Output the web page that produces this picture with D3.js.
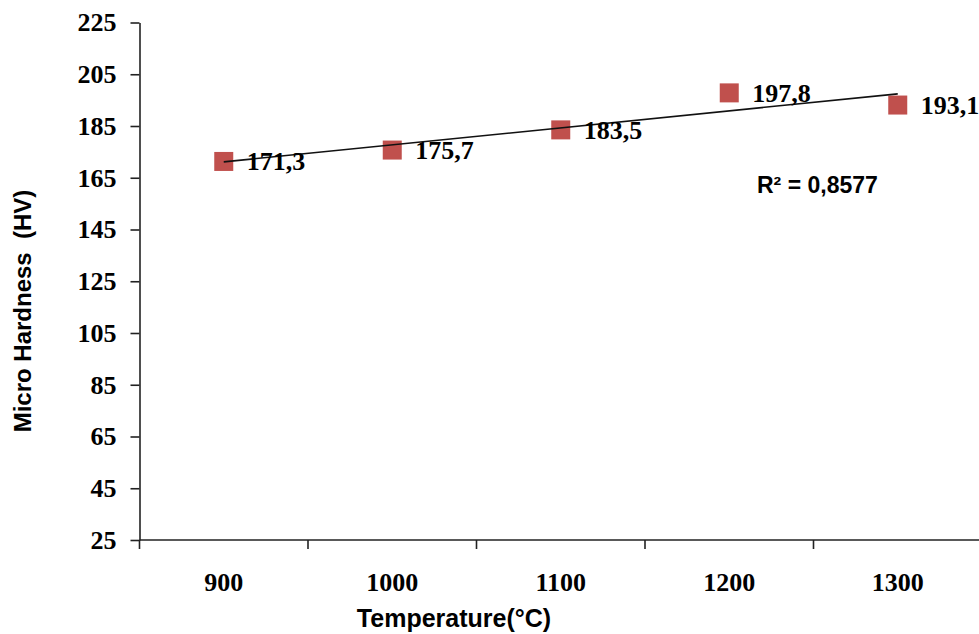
<!DOCTYPE html>
<html>
<head>
<meta charset="utf-8">
<script src="https://cdn.jsdelivr.net/npm/d3@7"></script>
<style>
  body { margin: 0; background: #fff; }
  svg { display: block; }
</style>
</head>
<body>
<div id="chart"></div>
<script>
var w = 979;
var h = 634;

// data
var temps = ["900", "1000", "1100", "1200", "1300"];
var hardness = [171.3, 175.7, 183.5, 197.8, 193.1];
var yTicks = [25, 45, 65, 85, 105, 125, 145, 165, 185, 205, 225];
var r2Text = "R\u00b2 = 0,8577";

var plotLeft = 139.5, plotTop = 22.5, plotBottom = 540;
var step = 168.5;
var serif = "'Liberation Serif', 'Times New Roman', serif";
var sans = "'Liberation Sans', Arial, sans-serif";

var svg = d3.select("#chart")
  .append("svg")
  .attr("width", w)
  .attr("height", h);

var x = d3.scaleBand()
  .domain(temps)
  .range([plotLeft, plotLeft + step * temps.length]);

var y = d3.scaleLinear()
  .domain([25, 225])
  .range([plotBottom, plotTop]);

// y axis
var yAxis = svg.append("g")
  .attr("transform", "translate(" + plotLeft + ",0)")
  .call(d3.axisLeft(y).tickValues(yTicks).tickSize(9).tickSizeOuter(0).tickPadding(14));
yAxis.select(".domain").attr("stroke", "#222").attr("stroke-width", 1.6);
yAxis.selectAll(".tick line").attr("stroke", "#222").attr("stroke-width", 1.6);
yAxis.selectAll("text")
  .style("font-family", serif)
  .style("font-weight", "bold")
  .style("font-size", "26px")
  .attr("fill", "#000");

// x axis (ticks between categories)
var xAxis = svg.append("g")
  .attr("transform", "translate(0," + plotBottom + ")");
xAxis.append("line")
  .attr("x1", plotLeft).attr("x2", w)
  .attr("stroke", "#222").attr("stroke-width", 1.6);
xAxis.selectAll(".tk")
  .data(temps)
  .enter()
  .append("line")
  .attr("class", "tk")
  .attr("x1", function(d) { return x(d); })
  .attr("x2", function(d) { return x(d); })
  .attr("y1", 0).attr("y2", 9)
  .attr("stroke", "#222").attr("stroke-width", 1.6);
xAxis.selectAll(".lbl")
  .data(temps)
  .enter()
  .append("text")
  .attr("class", "lbl")
  .attr("x", function(d) { return x(d) + x.bandwidth() / 2; })
  .attr("y", 51)
  .attr("text-anchor", "middle")
  .style("font-family", serif)
  .style("font-weight", "bold")
  .style("font-size", "26px")
  .text(function(d) { return d; });

// axis titles
svg.append("text")
  .attr("transform", "translate(31,311) rotate(-90)")
  .attr("text-anchor", "middle")
  .style("font-family", sans)
  .style("font-weight", "bold")
  .style("font-size", "24px")
  .style("white-space", "pre")
  .text("Micro Hardness  (HV)");

svg.append("text")
  .attr("x", 454)
  .attr("y", 627)
  .attr("text-anchor", "middle")
  .style("font-family", sans)
  .style("font-weight", "bold")
  .style("font-size", "25px")
  .text("Temperature(\u00b0C)");

// markers
var cx = function(i) { return x(temps[i]) + x.bandwidth() / 2; };
svg.selectAll(".pt")
  .data(hardness)
  .enter()
  .append("rect")
  .attr("class", "pt")
  .attr("x", function(d, i) { return cx(i) - 9.5; })
  .attr("y", function(d) { return y(d) - 9.5; })
  .attr("width", 19)
  .attr("height", 19)
  .attr("fill", "#c0504d");

// linear trendline (least squares over category index)
var n = hardness.length;
var mx = (n + 1) / 2;
var my = d3.mean(hardness);
var sxy = 0, sxx = 0;
hardness.forEach(function(v, i) { sxy += (i + 1 - mx) * (v - my); sxx += (i + 1 - mx) * (i + 1 - mx); });
var slope = sxy / sxx;
var fit = function(i) { return my + slope * (i + 1 - mx); };

svg.append("line")
  .attr("x1", cx(0))
  .attr("y1", y(fit(0)))
  .attr("x2", cx(n - 1))
  .attr("y2", y(fit(n - 1)))
  .attr("stroke", "#111")
  .attr("stroke-width", 1.6);

// data labels
svg.selectAll(".vl")
  .data(hardness)
  .enter()
  .append("text")
  .attr("class", "vl")
  .attr("x", function(d, i) { return cx(i) + 23; })
  .attr("y", function(d) { return y(d) + 9; })
  .style("font-family", serif)
  .style("font-weight", "bold")
  .style("font-size", "26px")
  .text(function(d) { return String(d).replace(".", ","); });

// R squared
svg.append("text")
  .attr("x", 757)
  .attr("y", 193)
  .style("font-family", sans)
  .style("font-weight", "bold")
  .style("font-size", "23px")
  .text(r2Text);
</script>
</body>
</html>
